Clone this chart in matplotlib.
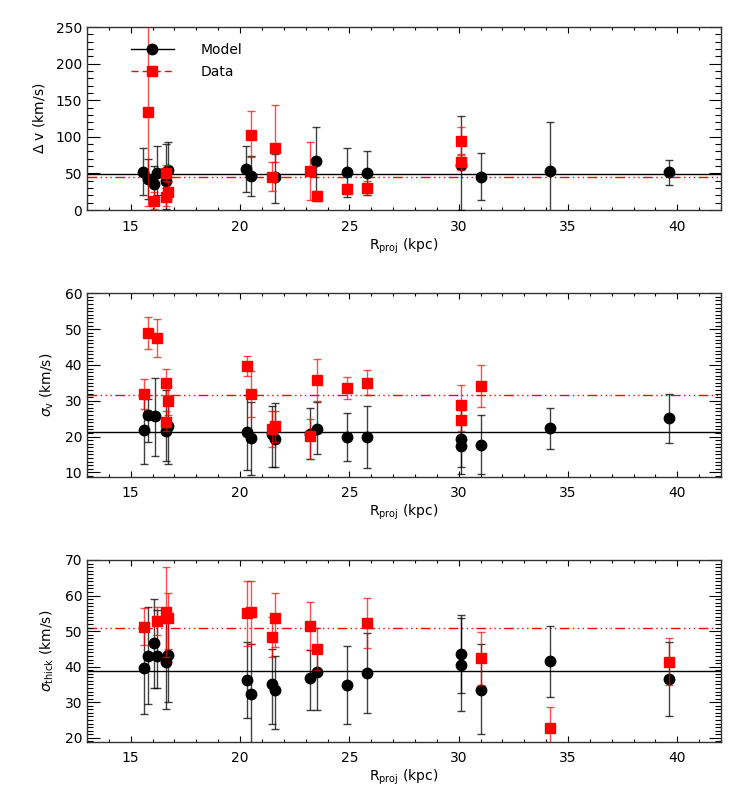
import matplotlib
matplotlib.use("Agg")
import matplotlib.pyplot as plt
import numpy as np
from matplotlib.lines import Line2D
from matplotlib.ticker import MultipleLocator

plt.rcParams['font.family'] = ['DejaVu Sans']
plt.rcParams['font.size'] = 10
plt.rcParams['mathtext.fontset'] = 'dejavusans'

# --- panel 1 : Delta v ---
dv_mod_x = [15.57, 15.77, 16.07, 16.18, 16.59, 16.7, 20.27, 20.5, 21.6, 23.49, 24.9, 25.8, 30.09, 31.0, 34.2, 39.6]
dv_mod_y = [51.9, 42.3, 35.9, 50.1, 39.6, 54.6, 56.0, 46.4, 45.5, 66.5, 51.5, 50.1, 62.0, 45.5, 53.7, 51.5]
dv_mod_lo = [20, 15, 10, 20, 1, 15, 25, 19, 10, 14, 18, 20, 0, 13, -5, 34]
dv_mod_hi = [85, 70, 60, 88, 90, 93, 88, 74, 77, 113, 85, 80, 129, 78, 120, 69]

dv_dat_x = [15.8, 16.07, 16.59, 16.59, 16.7, 20.5, 21.6, 21.47, 23.18, 23.51, 24.9, 25.8, 30.09, 30.09]
dv_dat_y = [134, 12.8, 50, 17.3, 25, 103, 85, 45.5, 53, 19, 29, 29.6, 94, 65]
dv_dat_lo = [5, 1, 40, 5, 12, 73, 65, 26, 14, 12, 22, 20, 76, 55]
dv_dat_hi = [300, 25, 62, 30, 38, 135, 143, 65, 93, 26, 36, 40, 113, 75]

# --- panel 2 : sigma_v ---
sv_mod_x = [15.59, 15.8, 16.13, 16.59, 16.7, 20.3, 20.5, 21.47, 21.6, 23.18, 23.5, 24.9, 25.8, 30.09, 30.09, 31.0, 34.2, 39.6]
sv_mod_y = [21.9, 25.9, 25.8, 21.6, 22.9, 21.2, 19.6, 20.8, 19.4, 20.8, 22.2, 19.8, 19.8, 19.4, 17.3, 17.7, 22.4, 25.2]
sv_mod_lo = [12.4, 18.6, 14.7, 13.3, 12.4, 10.8, 9.4, 11.5, 11.6, 13.6, 15.2, 13.3, 11.2, 11.4, 9.6, 9.6, 16.6, 18.3]
sv_mod_hi = [31.5, 30.6, 36.4, 33.1, 30.5, 31.5, 29.6, 28.5, 29.5, 28.1, 29.6, 26.6, 28.4, 27.3, 25.5, 26.1, 28.1, 32.0]

sv_dat_x = [15.59, 15.8, 16.18, 16.59, 16.7, 16.59, 20.3, 20.5, 21.47, 21.6, 23.18, 23.5, 24.9, 25.8, 30.09, 30.09, 31.0]
sv_dat_y = [32.0, 49.0, 47.6, 35.0, 30.0, 24.2, 39.6, 31.9, 22.0, 22.9, 20.1, 35.8, 33.6, 35.0, 28.7, 24.7, 34.1]
sv_dat_lo = [27.8, 44.4, 42.2, 31.5, 26.0, 21.5, 36.8, 25.6, 17.0, 18.5, 13.6, 30.0, 30.6, 31.5, 24.5, 21.5, 28.2]
sv_dat_hi = [36.0, 53.4, 52.7, 38.8, 34.0, 27.0, 42.5, 38.2, 27.2, 27.0, 25.0, 41.6, 36.5, 38.6, 34.5, 28.0, 40.1]

# --- panel 3 : sigma_thick ---
st_mod_x = [15.59, 15.8, 16.07, 16.18, 16.59, 16.7, 20.3, 20.5, 21.47, 21.6, 23.18, 23.5, 24.9, 25.8, 30.09, 30.09, 31.0, 34.2, 39.6]
st_mod_y = [39.5, 43.1, 46.6, 43.0, 41.2, 43.2, 36.2, 32.3, 35.0, 33.3, 36.8, 38.4, 34.8, 38.1, 43.5, 40.5, 33.4, 41.6, 36.5]
st_mod_lo = [26.6, 29.6, 33.9, 34.0, 28.0, 30.0, 25.7, 17.0, 24.0, 22.5, 27.8, 27.7, 23.9, 26.9, 32.5, 27.4, 21.0, 31.5, 26.2]
st_mod_hi = [52.0, 56.7, 58.9, 56.0, 53.0, 55.0, 46.8, 46.4, 45.0, 43.0, 44.7, 45.0, 45.9, 49.4, 54.5, 53.6, 46.3, 51.4, 47.0]

st_dat_x = [15.59, 16.18, 16.59, 16.7, 20.3, 20.5, 21.47, 21.6, 23.18, 23.5, 25.8, 31.0, 34.2, 39.6]
st_dat_y = [51.2, 52.8, 55.5, 53.6, 55.0, 55.3, 48.3, 53.6, 51.3, 45.0, 52.4, 42.3, 22.8, 41.4]
st_dat_lo = [46.1, 48.9, 42.8, 45.0, 45.8, 46.4, 42.6, 45.6, 44.7, 39.1, 45.3, 34.8, 17.0, 34.8]
st_dat_hi = [56.4, 56.9, 67.9, 60.8, 64.2, 64.2, 54.1, 60.8, 58.1, 51.0, 59.4, 49.7, 28.6, 48.1]

mean_model = [49.2, 21.4, 38.9]
mean_data = [44.6, 31.6, 50.8]

ylabels = [r'$\Delta$ v (km/s)', r'$\sigma_{\rm v}$ (km/s)', r'$\sigma_{\rm thick}$ (km/s)']
ylims = [(0, 250), (8.8, 60), (18.9, 70)]
ymajor = [50, 10, 10]
yminor = [10, 1, 1]

panels = [
    (dv_mod_x, dv_mod_y, dv_mod_lo, dv_mod_hi, dv_dat_x, dv_dat_y, dv_dat_lo, dv_dat_hi),
    (sv_mod_x, sv_mod_y, sv_mod_lo, sv_mod_hi, sv_dat_x, sv_dat_y, sv_dat_lo, sv_dat_hi),
    (st_mod_x, st_mod_y, st_mod_lo, st_mod_hi, st_dat_x, st_dat_y, st_dat_lo, st_dat_hi),
]

fig = plt.figure(figsize=(7.47, 7.97), dpi=100)
boxes = [[0.1165, 0.7365, 0.8487, 0.2296],
         [0.1165, 0.4019, 0.8487, 0.2301],
         [0.1165, 0.0694, 0.8487, 0.2280]]

dashdot3 = (0, (7, 2.5, 1, 2.5, 1, 2.5, 1, 2.5))

for i, (mx, my, mlo, mhi, dx, dy, dlo, dhi) in enumerate(panels):
    ax = fig.add_axes(boxes[i])
    mx, my, mlo, mhi = map(np.array, (mx, my, mlo, mhi))
    dx, dy, dlo, dhi = map(np.array, (dx, dy, dlo, dhi))

    ax.axhline(mean_model[i], color='black', lw=1.0, zorder=1)
    ax.axhline(mean_data[i], color='red', lw=1.0, ls=dashdot3, zorder=1)

    ax.errorbar(mx, my, yerr=[my - mlo, mhi - my], fmt='o', color='black', ms=7.5,
                ecolor=(0, 0, 0, 0.75), elinewidth=1.0, capsize=3, capthick=1.0, zorder=3)
    ax.errorbar(dx, dy, yerr=[dy - dlo, dhi - dy], fmt='s', color='red', ms=7,
                ecolor=(1, 0, 0, 0.7), elinewidth=1.0, capsize=3, capthick=1.0, zorder=4)

    ax.set_xlim(13, 42)
    ax.set_ylim(*ylims[i])
    ax.xaxis.set_major_locator(MultipleLocator(5))
    ax.xaxis.set_minor_locator(MultipleLocator(1))
    ax.yaxis.set_major_locator(MultipleLocator(ymajor[i]))
    ax.yaxis.set_minor_locator(MultipleLocator(yminor[i]))
    ax.tick_params(axis='both', which='both', direction='in', top=True, right=True, width=0.8)
    ax.tick_params(axis='x', which='major', length=4, pad=7)
    ax.tick_params(axis='x', which='minor', length=2)
    ax.tick_params(axis='y', which='major', length=9)
    ax.tick_params(axis='y', which='minor', length=4.5)
    for s in ax.spines.values():
        s.set_linewidth(1.0)
        s.set_color('#333333')

    ax.set_xlabel(r'R$_{\rm proj}$ (kpc)', labelpad=2)
    ax.set_ylabel(ylabels[i], labelpad=6)

    if i == 0:
        handles = [Line2D([], [], color='black', marker='o', ms=7.5, lw=1.0),
                   Line2D([], [], color='red', marker='s', ms=7, lw=1.0, ls=(0, (5, 3)))]
        ax.legend(handles, ['Model', 'Data'], loc='upper left', bbox_to_anchor=(0.069, 0.915),
                  frameon=False, borderpad=0, borderaxespad=0, handlelength=3.1,
                  handletextpad=1.9, labelspacing=0.6, numpoints=1)

fig.savefig('out.png', dpi=100)
